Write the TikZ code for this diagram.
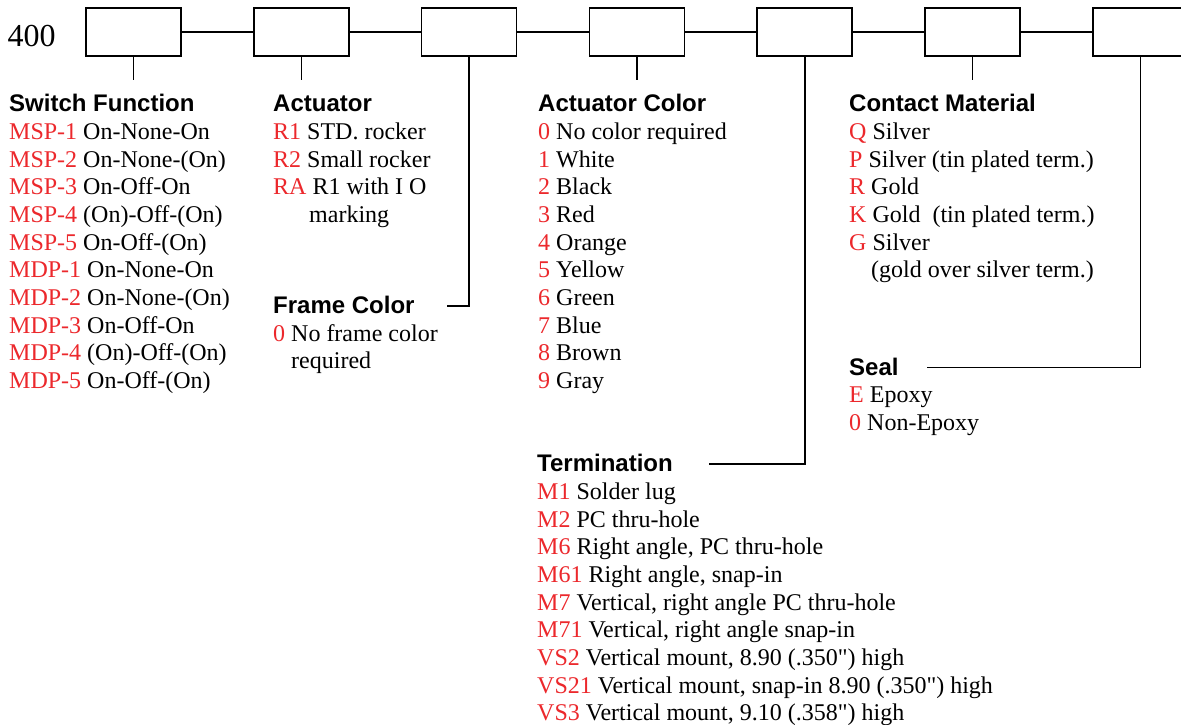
\documentclass[tikz,border=0pt]{standalone}
\usepackage{fontspec}
\setmainfont{Liberation Serif}
\newfontfamily\qfont{Liberation Serif}
\newfontfamily\hfont{Liberation Sans}
\definecolor{codered}{RGB}{236,40,44}
\newcommand\rd[1]{\textcolor{codered}{#1}}
\newcommand\qq{{\qfont\symbol{34}}}
\begin{document}
\begin{tikzpicture}[x=1pt,y=-1pt,
  partbox/.style={draw,line width=1.7pt,minimum width=95pt,minimum height=48pt,inner sep=0pt},
  conn/.style={line width=1.6pt},
  txt/.style={anchor=base west,inner sep=0pt,font=\fontsize{24}{27.6}\selectfont},
  hdr/.style={anchor=base west,inner sep=0pt,font=\fontsize{24}{27.6}\selectfont\hfont\bfseries}]
\clip (0,0) rectangle (1181,724);
\fill[white] (0,0) rectangle (1181,724);
% prefix
\node[anchor=base west,inner sep=0pt,font=\fontsize{32}{36}\selectfont] (pre) at (7.5,46.7) {400};
% boxes
\foreach \i/\x in {1/133.5,2/301.3,3/469.1,4/636.9,5/804.7,6/972.5,7/1140.3}
  \node[partbox] (b\i) at (\x,32) {};
\foreach \a/\b in {1/2,2/3,3/4,4/5,5/6,6/7}
  \draw[conn] (b\a.east) -- (b\b.west);
% tick ends
\coordinate (t1) at (133.5,80);
\coordinate (t2) at (301.3,80);
\coordinate (t4) at (636.9,80);
\coordinate (t6) at (972.5,80);
\coordinate (t3) at (447,306);
\coordinate (t5) at (709,464);
\coordinate (t7) at (927,367.3);
\draw[conn] (b1.south) -- (t1);
\draw[conn] (b2.south) -- (t2);
\draw[conn] (b4.south) -- (t4);
\draw[conn] (b6.south) -- (t6);
\draw[conn] (b3.south) |- (t3);
\draw[conn] (b5.south) |- (t5);
\draw[conn] (b7.south) |- (t7);
% Switch Function
\node[hdr] (sfh) at (9,111.5) {Switch Function};
\node[txt] (sf1) at (9,139.3) {\rd{MSP-1} On-None-On};
\node[txt] (sf2) at (9,167.0) {\rd{MSP-2} On-None-(On)};
\node[txt] (sf3) at (9,194.6) {\rd{MSP-3} On-Off-On};
\node[txt] (sf4) at (9,222.3) {\rd{MSP-4} (On)-Off-(On)};
\node[txt] (sf5) at (9,250.0) {\rd{MSP-5} On-Off-(On)};
\node[txt] (sf6) at (9,277.6) {\rd{MDP-1} On-None-On};
\node[txt] (sf7) at (9,305.3) {\rd{MDP-2} On-None-(On)};
\node[txt] (sf8) at (9,333.0) {\rd{MDP-3} On-Off-On};
\node[txt] (sf9) at (9,360.6) {\rd{MDP-4} (On)-Off-(On)};
\node[txt] (sf10) at (9,388.3) {\rd{MDP-5} On-Off-(On)};
% Actuator
\node[hdr] (ach) at (273,111.5) {Actuator};
\node[txt] (ac1) at (273,139.3) {\rd{R1} STD. rocker};
\node[txt] (ac2) at (273,167.0) {\rd{R2} Small rocker};
\node[txt] (ac3) at (273,194.6) {\rd{RA} R1 with I O};
\node[txt] (ac4) at (309,222.3) {marking};
% Frame Color
\node[hdr] (fch) at (273,313.3) {Frame Color};
\node[txt] (fc1) at (273,341.0) {\rd{0} No frame color};
\node[txt] (fc2) at (291,368.6) {required};
% Actuator Color
\node[hdr] (cch) at (538,111.5) {Actuator Color};
\node[txt] (cc0) at (538,139.3) {\rd{0} No color required};
\node[txt] (cc1) at (538,167.0) {\rd{1} White};
\node[txt] (cc2) at (538,194.6) {\rd{2} Black};
\node[txt] (cc3) at (538,222.3) {\rd{3} Red};
\node[txt] (cc4) at (538,250.0) {\rd{4} Orange};
\node[txt] (cc5) at (538,277.6) {\rd{5} Yellow};
\node[txt] (cc6) at (538,305.3) {\rd{6} Green};
\node[txt] (cc7) at (538,333.0) {\rd{7} Blue};
\node[txt] (cc8) at (538,360.6) {\rd{8} Brown};
\node[txt] (cc9) at (538,388.3) {\rd{9} Gray};
% Contact Material
\node[hdr] (cmh) at (849,111.5) {Contact Material};
\node[txt] (cm1) at (849,139.3) {\rd{Q} Silver};
\node[txt] (cm2) at (849,167.0) {\rd{P} Silver (tin plated term.)};
\node[txt] (cm3) at (849,194.6) {\rd{R} Gold};
\node[txt] (cm4) at (849,222.3) {\rd{K} Gold\ \ (tin plated term.)};
\node[txt] (cm5) at (849,250.0) {\rd{G} Silver};
\node[txt] (cm6) at (871,277.6) {(gold over silver term.)};
% Seal
\node[hdr] (slh) at (849,375.0) {Seal};
\node[txt] (sl1) at (849,402.7) {\rd{E} Epoxy};
\node[txt] (sl2) at (849,430.3) {\rd{0} Non-Epoxy};
% Termination
\node[hdr] (tmh) at (537,471.7) {Termination};
\node[txt] (tm1) at (537,499.3) {\rd{M1} Solder lug};
\node[txt] (tm2) at (537,527.0) {\rd{M2} PC thru-hole};
\node[txt] (tm3) at (537,554.6) {\rd{M6} Right angle, PC thru-hole};
\node[txt] (tm4) at (537,582.3) {\rd{M61} Right angle, snap-in};
\node[txt] (tm5) at (537,610.0) {\rd{M7} Vertical, right angle PC thru-hole};
\node[txt] (tm6) at (537,637.6) {\rd{M71} Vertical, right angle snap-in};
\node[txt] (tm7) at (537,665.3) {\rd{VS2} Vertical mount, 8.90 (.350\qq) high};
\node[txt] (tm8) at (537,693.0) {\rd{VS21} Vertical mount, snap-in 8.90 (.350\qq) high};
\node[txt] (tm9) at (537,720.6) {\rd{VS3} Vertical mount, 9.10 (.358\qq) high};
\end{tikzpicture}
\end{document}
